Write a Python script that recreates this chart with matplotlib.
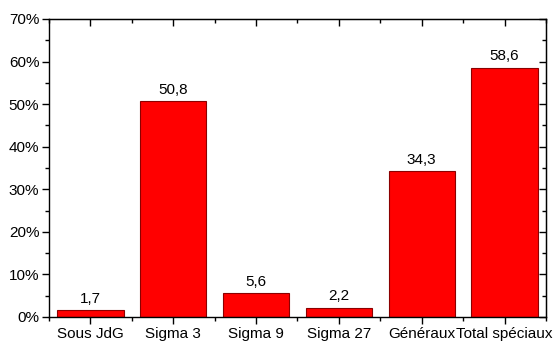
import matplotlib
matplotlib.use("Agg")
import matplotlib.pyplot as plt
from matplotlib.ticker import FixedLocator, MultipleLocator, FuncFormatter

categories = ["Sous JdG", "Sigma 3", "Sigma 9", "Sigma 27", "Généraux", "Total spéciaux"]
values = [1.7, 50.8, 5.6, 2.2, 34.3, 58.6]
value_labels = ["1,7", "50,8", "5,6", "2,2", "34,3", "58,6"]

plt.rcParams["font.family"] = ["Liberation Sans", "DejaVu Sans"]
plt.rcParams["font.size"] = 11

fig = plt.figure(figsize=(5.56, 3.41), dpi=100)
ax = fig.add_axes([0.0881, 0.0704, 0.8939, 0.8739])

x = list(range(1, len(categories) + 1))
ax.bar(x, values, width=0.8, color="#ff0000", edgecolor="#8b0000", linewidth=0.8)

for xi, v, lab in zip(x, values, value_labels):
    ax.annotate(lab, (xi, v), xytext=(0, 3), textcoords="offset points",
                ha="center", va="bottom", fontsize=11)

ax.set_xlim(0.5, len(categories) + 0.5)
ax.set_ylim(0, 70)
ax.set_xticks(x)
ax.set_xticklabels(categories)
ax.xaxis.set_minor_locator(FixedLocator([i + 0.5 for i in range(0, len(categories) + 1)]))
ax.yaxis.set_major_locator(MultipleLocator(10))
ax.yaxis.set_minor_locator(MultipleLocator(5))
ax.yaxis.set_major_formatter(FuncFormatter(lambda v, p: f"{v:.0f}%"))

for s in ax.spines.values():
    s.set_linewidth(1.0)

ax.tick_params(axis="both", which="major", direction="out", length=5, width=1, labelsize=11, pad=2)
ax.tick_params(axis="both", which="minor", direction="out", length=3, width=1)

# Mirror ticks on the top and right edges, pointing inward
axt = ax.secondary_xaxis("top")
axt.set_xticks(x)
axt.set_xticklabels([])
axt.xaxis.set_minor_locator(FixedLocator([i + 0.5 for i in range(0, len(categories) + 1)]))
axt.tick_params(which="major", direction="in", length=5, width=1)
axt.tick_params(which="minor", direction="in", length=3, width=1)

axr = ax.secondary_yaxis("right")
axr.yaxis.set_major_locator(MultipleLocator(10))
axr.yaxis.set_minor_locator(MultipleLocator(5))
axr.set_yticklabels([])
axr.tick_params(which="major", direction="in", length=5, width=1)
axr.tick_params(which="minor", direction="in", length=3, width=1)

fig.savefig("out.png", dpi=100)
